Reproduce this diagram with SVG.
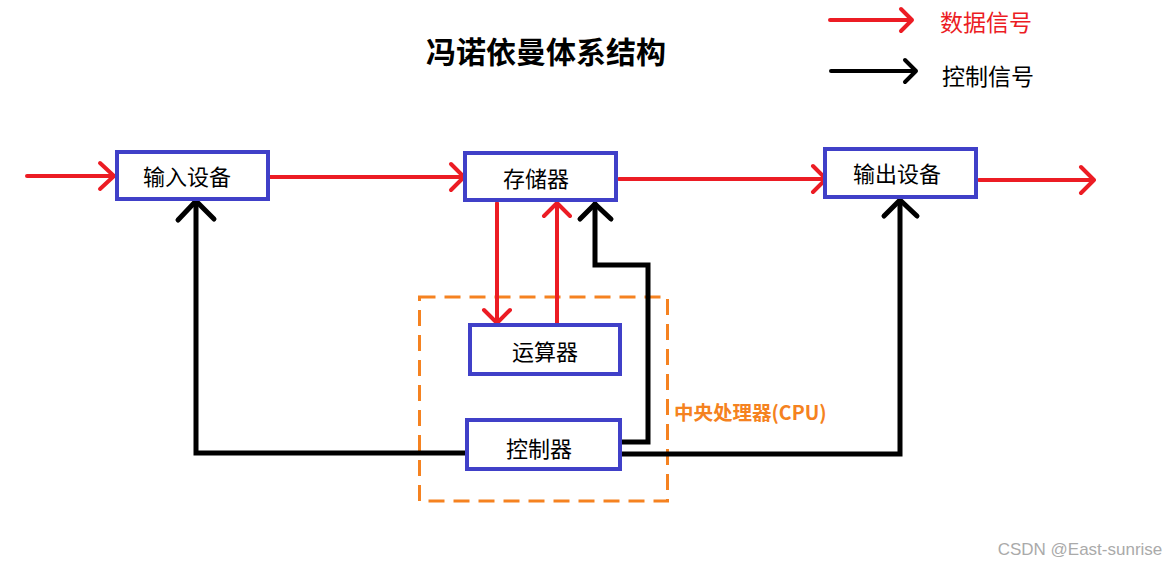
<svg xmlns="http://www.w3.org/2000/svg" width="1176" height="565" viewBox="0 0 1176 565">
<style>
.box{fill:#fff;stroke:#4040c8;stroke-width:4}
.lbl{font-family:"Noto Sans CJK SC","Microsoft YaHei",sans-serif;font-size:22px;fill:#000;text-anchor:middle}
.red{stroke:#ec1c24;stroke-width:4;fill:none;stroke-linecap:round;stroke-linejoin:round}
.blk{stroke:#000;stroke-width:5;fill:none;stroke-linecap:round;stroke-linejoin:miter}
.blkh{stroke:#000;stroke-width:5;fill:none;stroke-linecap:round;stroke-linejoin:round}
</style>
<rect width="1176" height="565" fill="#fff"/>
<text x="546" y="63" font-family="Noto Sans CJK SC,sans-serif" font-size="30" font-weight="bold" text-anchor="middle" fill="#000">冯诺依曼体系结构</text>
<g id="legend">
<path class="red" d="M830 20H912M901 9L912 20L901 31"/>
<text x="940" y="31" font-family="Noto Sans CJK SC,sans-serif" font-size="23" fill="#ec1c24">数据信号</text>
<path class="blkh" style="stroke-width:4" d="M831 71H916M905 60L916 71L905 82"/>
<text x="942" y="85" font-family="Noto Sans CJK SC,sans-serif" font-size="23" fill="#000">控制信号</text>
</g>
<g id="cpu">
<rect x="419.5" y="297" width="248" height="204" fill="none" stroke="#f58220" stroke-width="3" stroke-dasharray="16 9"/>
<text x="674" y="420" font-family="Noto Sans CJK SC,sans-serif" font-size="19.5" font-weight="bold" fill="#f58220">中央处理器(CPU)</text>
</g>
<g id="connectors">
<path class="red" d="M27 176H114M100 163L114 176L100 189"/>
<path class="red" d="M270 177H464M451 164L464 177L451 190"/>
<path class="red" d="M619 179H826M813 166L826 179L813 192"/>
<path class="red" d="M979 180H1094M1081 167L1094 180L1081 193"/>
<path class="red" d="M497 203V323M484 310L497 323L510 310"/>
<path class="red" d="M557 323V203M544 216L557 203L570 216"/>
<path class="blk" d="M465 453H196V202"/>
<path class="blkh" d="M178 220L196 201L214 219"/>
<path class="blk" d="M622 442H648V265H595V204"/>
<path class="blkh" d="M580 219L595 204L611 219"/>
<path class="blk" d="M622 454H900V201"/>
<path class="blkh" d="M884 216L900 200L917 216"/>
</g>
<g id="input"><rect class="box" x="117" y="152" width="151" height="47"/><text class="lbl" x="187" y="185">输入设备</text></g>
<g id="memory"><rect class="box" x="465" y="153" width="151" height="47"/><text class="lbl" x="536" y="187">存储器</text></g>
<g id="alu"><rect class="box" x="470" y="325" width="150" height="49"/><text class="lbl" x="545" y="360">运算器</text></g>
<g id="control"><rect class="box" x="467" y="420" width="153" height="49"/><text class="lbl" x="539" y="457">控制器</text></g>
<g id="output"><rect class="box" x="825" y="149" width="151" height="48"/><text class="lbl" x="897" y="182">输出设备</text></g>
<text x="1080" y="555" font-family="Liberation Sans,sans-serif" font-size="17" fill="#aaa" text-anchor="middle">CSDN @East-sunrise</text>
</svg>
